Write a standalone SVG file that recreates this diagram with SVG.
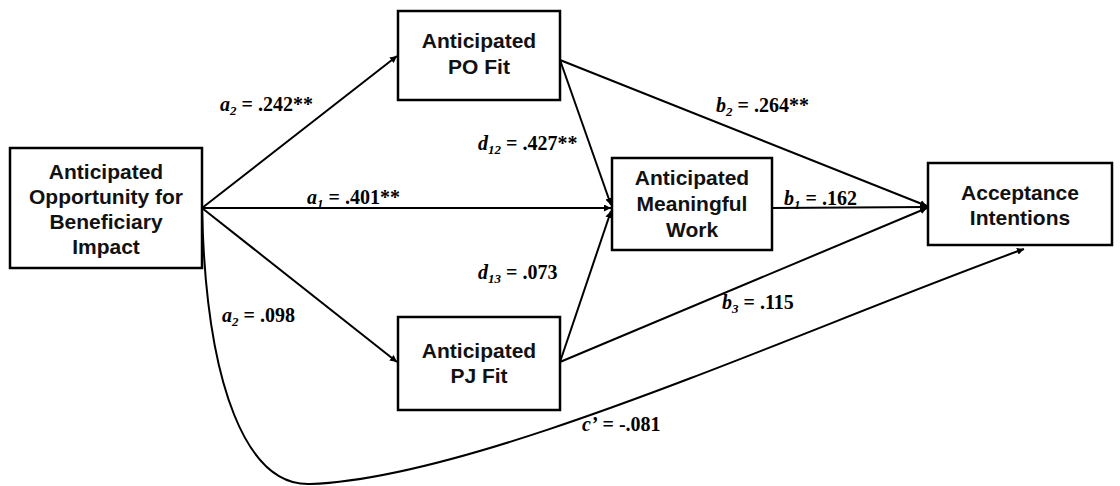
<svg xmlns="http://www.w3.org/2000/svg" width="1120" height="486" viewBox="0 0 1120 486">
<style>
.box{fill:#fff;stroke:#000;stroke-width:2.5}
.nt{font-family:"Liberation Sans",Arial,sans-serif;font-weight:bold;font-size:21px;fill:#111;text-anchor:middle}
.ln{fill:none;stroke:#000;stroke-width:2}
.lb{font-family:"Liberation Serif","Times New Roman",serif;font-weight:bold;font-size:20px;fill:#000}
.it{font-style:italic}
</style>
<defs>
<marker id="ah" viewBox="0 0 10 10" refX="10" refY="5" markerWidth="7" markerHeight="7" markerUnits="userSpaceOnUse" orient="auto">
<path d="M0,0 L10,5 L0,10 Z" fill="#000"/>
</marker>
</defs>
<rect width="1120" height="486" fill="#fff"/>
<g id="connectors">
<line class="ln" x1="202" y1="208" x2="397" y2="56" marker-end="url(#ah)"/>
<line class="ln" x1="202" y1="208" x2="611" y2="208" marker-end="url(#ah)"/>
<line class="ln" x1="202" y1="208" x2="397" y2="362" marker-end="url(#ah)"/>
<line class="ln" x1="560" y1="60" x2="611" y2="205" marker-end="url(#ah)"/>
<line class="ln" x1="560" y1="362" x2="611" y2="211" marker-end="url(#ah)"/>
<line class="ln" x1="772" y1="208" x2="927" y2="207" marker-end="url(#ah)"/>
<line class="ln" x1="560" y1="60" x2="927" y2="206" marker-end="url(#ah)"/>
<line class="ln" x1="560" y1="362" x2="927" y2="208" marker-end="url(#ah)"/>
<path class="ln" d="M202,208 C206,390 248,486 310,484 C480,478 800,330 1024,249" marker-end="url(#ah)"/>
</g>
<g id="labels">
<text class="lb" x="220" y="111"><tspan class="it">a</tspan><tspan class="it" font-size="13" dy="4">2</tspan><tspan dy="-4"> = .242**</tspan></text>
<text class="lb" x="307" y="204"><tspan class="it">a</tspan><tspan class="it" font-size="13" dy="4">1</tspan><tspan dy="-4"> = .401**</tspan></text>
<text class="lb" x="222" y="322"><tspan class="it">a</tspan><tspan class="it" font-size="13" dy="4">2</tspan><tspan dy="-4"> = .098</tspan></text>
<text class="lb" x="478" y="150"><tspan class="it">d</tspan><tspan class="it" font-size="13" dy="4">12</tspan><tspan dy="-4"> = .427**</tspan></text>
<text class="lb" x="478" y="279"><tspan class="it">d</tspan><tspan class="it" font-size="13" dy="4">13</tspan><tspan dy="-4"> = .073</tspan></text>
<text class="lb" x="716" y="112"><tspan class="it">b</tspan><tspan class="it" font-size="13" dy="4">2</tspan><tspan dy="-4"> = .264**</tspan></text>
<text class="lb" x="784" y="205"><tspan class="it">b</tspan><tspan class="it" font-size="13" dy="4">1</tspan><tspan dy="-4"> = .162</tspan></text>
<text class="lb" x="722" y="309"><tspan class="it">b</tspan><tspan class="it" font-size="13" dy="4">3</tspan><tspan dy="-4"> = .115</tspan></text>
<text class="lb" x="582" y="431"><tspan class="it">c’</tspan> = -.081</text>
</g>
<g id="node-beneficiary">
<rect class="box" x="10" y="148" width="192" height="120"/>
<text class="nt" x="106" y="179">Anticipated</text>
<text class="nt" x="106" y="204">Opportunity for</text>
<text class="nt" x="106" y="229">Beneficiary</text>
<text class="nt" x="106" y="254">Impact</text>
</g>
<g id="node-po">
<rect class="box" x="398" y="11" width="162" height="89"/>
<text class="nt" x="479" y="48">Anticipated</text>
<text class="nt" x="479" y="74">PO Fit</text>
</g>
<g id="node-pj">
<rect class="box" x="398" y="317" width="162" height="93"/>
<text class="nt" x="479" y="358">Anticipated</text>
<text class="nt" x="479" y="383">PJ Fit</text>
</g>
<g id="node-meaningful">
<rect class="box" x="612" y="158" width="160" height="92"/>
<text class="nt" x="692" y="185">Anticipated</text>
<text class="nt" x="692" y="211">Meaningful</text>
<text class="nt" x="692" y="237">Work</text>
</g>
<g id="node-acceptance">
<rect class="box" x="928" y="163" width="184" height="82"/>
<text class="nt" x="1020" y="200">Acceptance</text>
<text class="nt" x="1020" y="225">Intentions</text>
</g>
</svg>
